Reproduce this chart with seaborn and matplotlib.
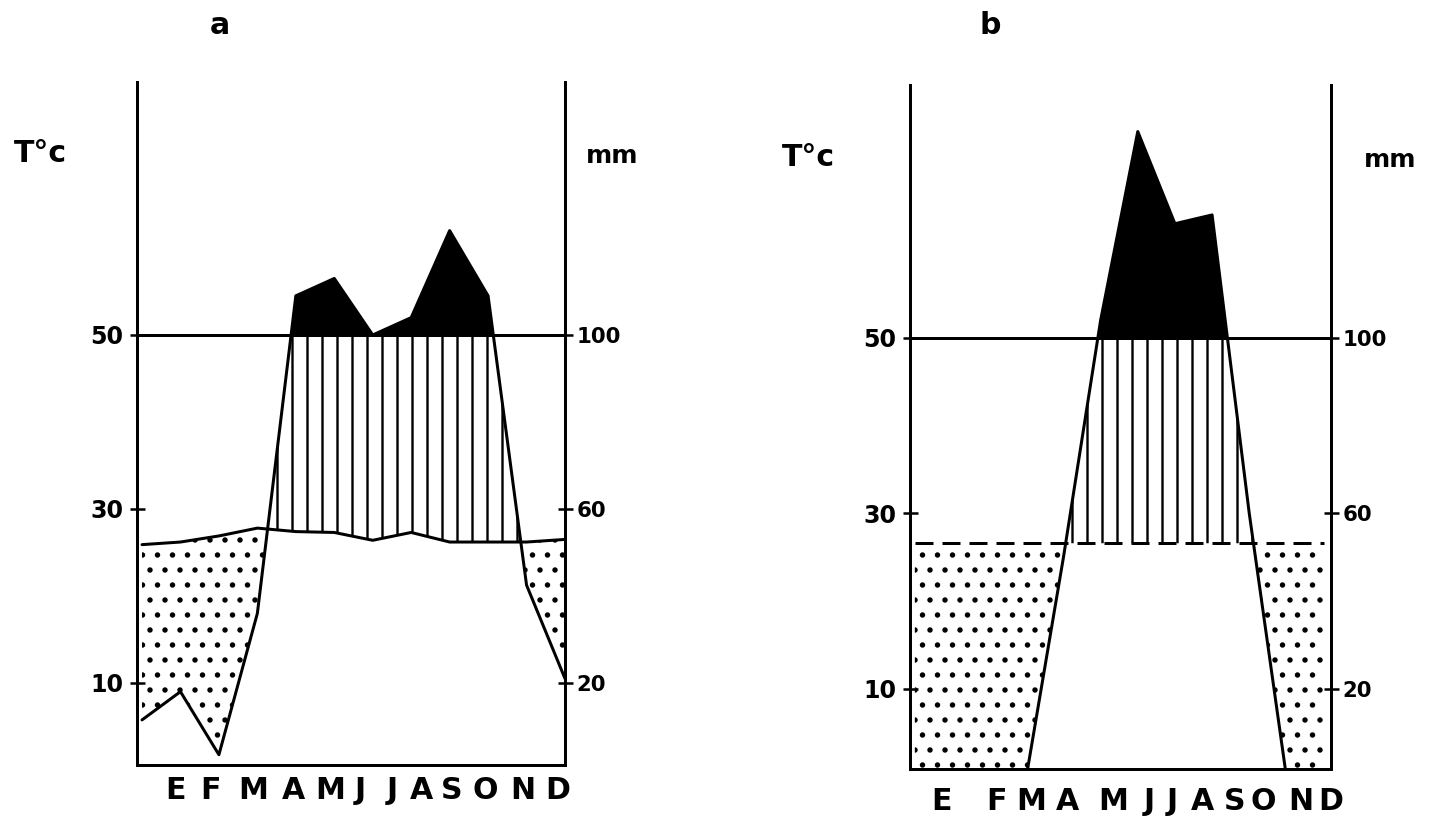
import matplotlib
matplotlib.use("Agg")
import matplotlib.pyplot as plt
import seaborn as sns
import numpy as np

# meses (E = enero ... D = diciembre)
months = ["E", "F", "M", "A", "M", "J", "J", "A", "S", "O", "N", "D"]
month_idx = np.arange(12)

# climograma a : temperatura (°C) y precipitación (mm)
temp_a = [25.9, 26.2, 26.9, 27.8, 27.4, 27.3, 26.4, 27.3, 26.2, 26.2, 26.2, 26.5]
prec_a = [11.5, 18, 3.5, 36, 109, 113, 100, 104, 124, 109, 42.5, 21]

# climograma b
temp_b = [26.6, 26.6, 26.6, 26.6, 26.6, 26.6, 26.6, 26.6, 26.6, 26.6, 26.6, 26.6]
prec_b = [0, 0, 0, 0, 50, 104, 147, 126, 128, 60, 0, 0]

# posiciones de las letras de los meses (dibujadas a mano en el original)
label_pos_a = [0.86, 1.77, 2.89, 3.93, 4.89, 5.67, 6.5, 7.28, 8.06, 8.92, 9.91, 10.82]
label_pos_b = [0.71, 2.2, 3.12, 4.1, 5.34, 6.3, 6.93, 7.75, 8.6, 9.39, 10.4, 11.2]

sns.set_style("ticks")
plt.rcParams["font.family"] = ["DejaVu Sans"]
plt.rcParams["font.weight"] = "bold"
plt.rcParams["hatch.linewidth"] = 1.9
plt.rcParams["hatch.color"] = "black"
for key in ["text.color", "axes.edgecolor", "axes.labelcolor", "xtick.color", "ytick.color"]:
    plt.rcParams[key] = "black"

DPI = 90
fig = plt.figure(figsize=(1430 / DPI, 826 / DPI), dpi=DPI)
W, H = 1430, 826


def climograma(ax, temp, prec, label_pos, ylim, xpad, dashed):
    t = np.array(temp, dtype=float)
    p2 = np.array(prec, dtype=float) / 2.0   # escala mm -> °C (10 °C = 20 mm)

    # periodo seco (punteado)
    ax.fill_between(month_idx, p2, t, where=p2 < t, interpolate=True,
                    facecolor="none", edgecolor="k", hatch=".", linewidth=0, zorder=1)
    # periodo húmedo (rayado vertical)
    ax.fill_between(month_idx, t, p2, where=p2 > t, interpolate=True,
                    facecolor="none", edgecolor="k", hatch="|", linewidth=0, zorder=1)
    # más de 100 mm (negro)
    ax.fill_between(month_idx, 50, p2, where=p2 > 50, interpolate=True,
                    color="k", linewidth=0, zorder=2)

    sns.lineplot(x=month_idx, y=p2, color="k", lw=2.4, ax=ax, errorbar=None, zorder=3)
    sns.lineplot(x=month_idx, y=t, color="k", lw=2.4, ax=ax, errorbar=None, zorder=3,
                 linestyle=(0, (6, 3)) if dashed else "-")
    ax.axhline(50, color="k", lw=2.4, zorder=3)

    ax.set_xlim(-0.13, 11)
    ax.set_ylim(*ylim)
    ax.set_xlabel("")
    ax.set_ylabel("")

    ax.set_xticks(label_pos, months)
    ax.tick_params(axis="x", length=0, labelsize=24, pad=xpad, colors="k")
    ax.set_yticks([10, 30, 50], ["10", "30", "50"])
    ax.tick_params(axis="y", direction="inout", length=12, width=2,
                   labelsize=19, pad=5, colors="k")

    sns.despine(ax=ax, top=True, right=True, left=False, bottom=False)
    for side in ["left", "bottom"]:
        ax.spines[side].set_linewidth(2.4)
        ax.spines[side].set_color("k")

    sec = ax.secondary_yaxis("right", functions=(lambda v: v * 2, lambda v: v / 2))
    sec.set_yticks([20, 60, 100], ["20", "60", "100"])
    sec.tick_params(axis="y", direction="inout", length=12, width=2,
                    labelsize=17, pad=3, colors="k")
    sec.spines["right"].set_linewidth(2.4)
    sec.spines["right"].set_color("k")


ax_a = fig.add_axes([137 / W, 1 - 765 / H, 428 / W, (765 - 82) / H])
climograma(ax_a, temp_a, prec_a, label_pos_a, (0.57, 79.08), 9, False)

ax_b = fig.add_axes([910 / W, 1 - 769 / H, 421 / W, (769 - 85) / H])
climograma(ax_b, temp_b, prec_b, label_pos_b, (0.88, 78.8), 14, True)

# rótulos
fig.text(220 / W, 1 - 26 / H, "a", fontsize=24, ha="center", va="center", color="k")
fig.text(990 / W, 1 - 25 / H, "b", fontsize=24, ha="center", va="center", color="k")
fig.text(40 / W, 1 - 154 / H, "T°c", fontsize=24, ha="center", va="center", color="k")
fig.text(808 / W, 1 - 158 / H, "T°c", fontsize=24, ha="center", va="center", color="k")
fig.text(612 / W, 1 - 156 / H, "mm", fontsize=20, ha="center", va="center", color="k")
fig.text(1390 / W, 1 - 160 / H, "mm", fontsize=20, ha="center", va="center", color="k")

fig.savefig("out.png", dpi=DPI)
